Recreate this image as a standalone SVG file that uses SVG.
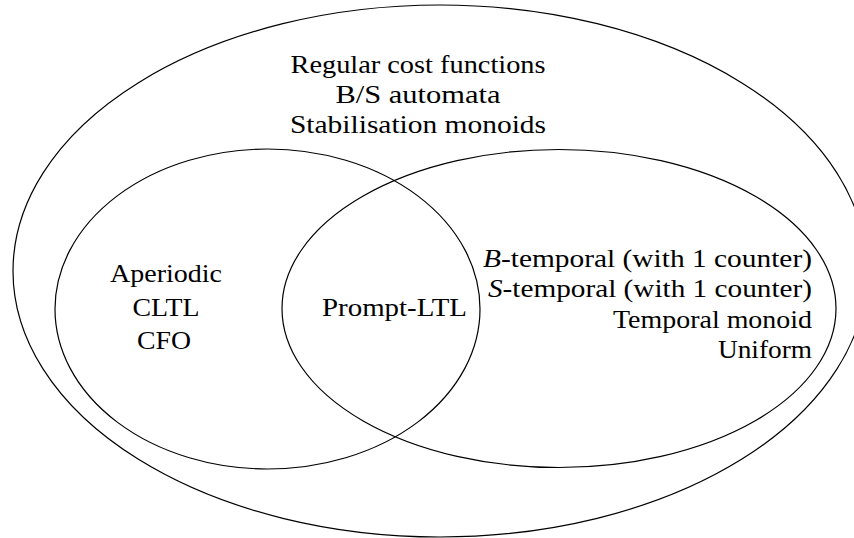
<svg xmlns="http://www.w3.org/2000/svg" width="854" height="538" viewBox="0 0 854 538">
<style>
.set{fill:none;stroke:#000;stroke-width:1.2}
.lbl{font-size:26px;fill:#000}
.c{text-anchor:middle}
.r{text-anchor:end}
.m{font-style:italic}
</style>
<rect width="854" height="538" fill="#fff"/>
<g font-family="Liberation Serif, DejaVu Serif, serif">
<g id="regular">
<ellipse class="set" cx="440" cy="271" rx="427" ry="266"/>
<text class="lbl c" x="418" y="73" textLength="255" lengthAdjust="spacingAndGlyphs">Regular cost functions</text>
<text class="lbl c" x="418" y="103" textLength="165" lengthAdjust="spacingAndGlyphs">B/S automata</text>
<text class="lbl c" x="418" y="133" textLength="256" lengthAdjust="spacingAndGlyphs">Stabilisation monoids</text>
</g>
<g id="aperiodic">
<ellipse class="set" cx="267.5" cy="309" rx="212.5" ry="160"/>
<text class="lbl c" x="166" y="282" textLength="112" lengthAdjust="spacingAndGlyphs">Aperiodic</text>
<text class="lbl c" x="166" y="316" textLength="67" lengthAdjust="spacingAndGlyphs">CLTL</text>
<text class="lbl c" x="164" y="349" textLength="54" lengthAdjust="spacingAndGlyphs">CFO</text>
</g>
<g id="temporal">
<ellipse class="set" cx="559" cy="308.5" rx="277" ry="159"/>
<text class="lbl r" x="812" y="267" textLength="329" lengthAdjust="spacingAndGlyphs"><tspan class="m">B</tspan>-temporal (with 1 counter)</text>
<text class="lbl r" x="812" y="297" textLength="324" lengthAdjust="spacingAndGlyphs"><tspan class="m">S</tspan>-temporal (with 1 counter)</text>
<text class="lbl r" x="812" y="328" textLength="199" lengthAdjust="spacingAndGlyphs">Temporal monoid</text>
<text class="lbl r" x="812" y="358" textLength="94" lengthAdjust="spacingAndGlyphs">Uniform</text>
</g>
<g id="prompt">
<text class="lbl c" x="394.5" y="316" textLength="145" lengthAdjust="spacingAndGlyphs">Prompt-LTL</text>
</g>
</g>
</svg>
